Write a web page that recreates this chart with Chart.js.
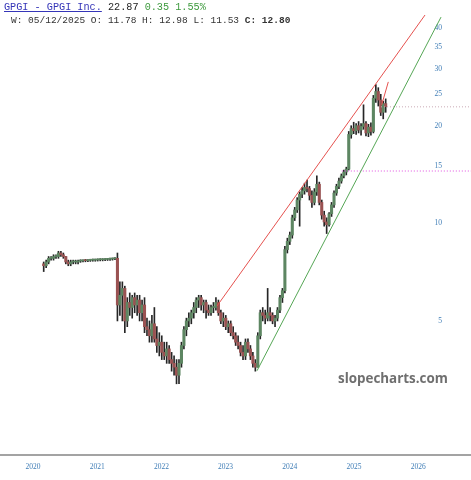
<!DOCTYPE html>
<html>
<head>
<meta charset="utf-8">
<script src="https://cdn.jsdelivr.net/npm/chart.js@4.4.0/dist/chart.umd.min.js"></script>
<style>
  body { margin: 0; background: #fff; }
  #wrap { position: relative; width: 471px; height: 480px; }
  canvas { display: block; }
  #line1 { position: absolute; left: 4px; top: 2px; font-family: "Liberation Mono", monospace; font-size: 10.2px; color: #222; white-space: pre; }
  #line1 .sym { color: #3535b8; text-decoration: underline; }
  #line1 .chg { color: #3d9a3d; }
  #line2 { position: absolute; left: 11px; top: 15px; font-family: "Liberation Mono", monospace; font-size: 9.5px; color: #333; white-space: pre; }
  #mark { position: absolute; left: 338px; top: 369px; font-family: "Open Sans", sans-serif; font-weight: bold; font-size: 13.4px; color: #6f6f6f; }
</style>
</head>
<body>
<div id="wrap">
  <canvas id="chart" width="471" height="480"></canvas>
  <div id="line1"><span class="sym">GPGI - GPGI Inc.</span> 22.87 <span class="chg">0.35 1.55%</span></div>
  <div id="line2">W: 05/12/2025 O: 11.78 H: 12.98 L: 11.53 <b>C: 12.80</b></div>
  <div id="mark">slopecharts.com</div>
</div>
<script>
// two-week candles starting 2020-03-02
var firstWeek = Date.UTC(2020, 2, 2);
var stepDays = 14;

var opens = [7.5,7.4,7.6,7.8,7.8,7.9,7.9,8.1,8.0,7.9,7.6,7.5,7.6,7.6,7.6,
  7.65,7.66,7.68,7.67,7.69,7.70,7.70,7.71,7.72,7.72,7.73,7.74,7.75,7.76,7.78,
  7.8,5.6,6.0,6.3,5.0,5.7,5.5,5.9,5.6,5.8,5.3,5.6,4.8,4.7,4.5,4.9,4.4,4.2,4.3,4.0,
  3.9,4.1,3.8,3.7,3.6,3.4,3.7,4.2,4.7,5.0,5.1,5.3,5.5,5.8,5.9,5.6,5.7,5.4,5.3,5.5,
  5.5,5.7,5.3,5.0,5.1,4.8,4.9,4.6,4.5,4.3,4.2,4.0,3.9,4.3,4.1,3.9,3.7,3.6,4.5,5.3,
  5.2,5.1,5.3,5.2,5.0,5.1,5.4,5.9,6.2,8.3,8.8,9.2,10.4,11.0,11.8,12.3,12.6,12.9,12.8,12.2,
  11.6,12.5,13.2,11.6,10.6,10.1,9.9,10.7,11.4,12.4,13.0,13.5,14.0,14.4,14.7,18.8,19.6,19.3,20.0,19.4,
  19.9,20.3,19.0,19.8,19.2,24.3,25.5,24.0,22.0,23.4];
var highs = [7.6,7.7,7.9,7.9,8.0,8.0,8.2,8.2,8.1,7.9,7.7,7.7,7.7,7.7,7.7,
  7.72,7.72,7.74,7.73,7.75,7.76,7.76,7.77,7.78,7.78,7.79,7.80,7.81,7.82,7.84,
  8.1,6.6,6.6,6.4,5.9,6.1,6.0,6.1,6.0,6.0,5.8,5.9,5.1,5.0,5.2,5.5,4.8,4.6,4.5,4.3,
  4.3,4.2,4.0,3.9,3.8,3.8,4.3,4.8,5.1,5.3,5.4,5.7,5.9,6.0,6.0,5.8,5.8,5.6,5.6,5.7,
  5.9,5.8,5.4,5.3,5.2,5.0,5.0,4.8,4.6,4.5,4.3,4.2,4.4,4.4,4.2,4.0,3.8,4.6,5.4,5.5,
  5.4,6.3,5.5,5.3,5.2,5.5,6.0,6.3,8.5,9.0,9.4,10.6,11.2,12.0,12.5,12.9,13.3,13.6,13.0,12.6,
  12.8,14.0,13.4,11.8,10.9,10.4,10.8,11.6,12.6,13.2,13.8,14.2,14.6,14.9,19.2,20.0,20.5,20.3,20.6,20.3,
  23.2,20.6,20.2,20.4,24.8,26.8,26.2,25.0,23.8,24.2];
var lows = [7.1,7.3,7.5,7.7,7.7,7.8,7.8,7.9,7.8,7.5,7.4,7.4,7.5,7.5,7.5,
  7.58,7.60,7.61,7.61,7.63,7.64,7.64,7.65,7.66,7.66,7.67,7.68,7.69,7.70,7.72,
  5.0,5.2,5.0,4.6,4.8,5.2,5.1,5.3,5.2,5.0,5.0,4.6,4.5,4.3,4.3,4.3,4.0,3.9,3.8,3.8,
  3.7,3.7,3.5,3.4,3.2,3.2,3.6,4.1,4.5,4.8,4.9,5.1,5.3,5.5,5.4,5.3,5.1,5.2,5.2,5.3,
  5.4,5.2,4.9,4.8,4.7,4.6,4.5,4.4,4.2,4.1,3.9,3.8,3.8,4.0,3.8,3.6,3.5,3.6,4.4,5.0,
  4.9,5.0,5.0,4.9,4.8,5.0,5.3,5.7,6.1,8.1,8.6,9.0,10.2,10.8,9.8,12.0,12.3,12.5,11.8,11.2,
  11.4,12.2,11.4,10.3,9.8,9.3,9.8,10.5,11.2,12.2,12.8,13.3,13.8,14.1,14.6,18.3,18.9,18.8,19.0,18.7,
  19.5,18.6,18.5,18.7,19.0,23.6,23.0,21.5,21.0,22.0];
var closes = [7.4,7.6,7.8,7.8,7.9,7.9,8.1,8.0,7.9,7.6,7.5,7.6,7.6,7.6,7.65,
  7.66,7.68,7.67,7.69,7.70,7.70,7.71,7.72,7.72,7.73,7.74,7.75,7.76,7.78,7.80,
  5.6,6.0,6.3,5.0,5.7,5.5,5.9,5.6,5.8,5.3,5.6,4.8,4.7,4.5,4.9,4.4,4.2,4.3,4.0,3.9,
  4.1,3.8,3.7,3.6,3.4,3.7,4.2,4.7,5.0,5.1,5.3,5.5,5.8,5.9,5.6,5.7,5.4,5.3,5.5,5.5,
  5.7,5.3,5.0,5.1,4.8,4.9,4.6,4.5,4.3,4.2,4.0,3.9,4.3,4.1,3.9,3.7,3.6,4.5,5.3,5.2,
  5.1,5.3,5.2,5.0,5.1,5.4,5.9,6.2,8.3,8.8,9.2,10.4,11.0,11.8,12.3,12.6,12.9,12.8,12.2,11.6,
  12.5,13.2,11.6,10.6,10.1,9.9,10.7,11.4,12.4,13.0,13.5,14.0,14.4,14.7,18.8,19.6,19.3,20.0,19.4,19.9,
  20.3,19.0,19.8,19.2,24.3,25.5,24.0,22.0,23.4,22.9];

var yearTicks = [2020, 2021, 2022, 2023, 2024, 2025, 2026];
var priceTicks = [5, 10, 15, 20, 25, 30, 35, 40];

// trend lines [decimal year, price]
var redTrend = [[2022.866, 5.56], [2026.106, 43.9]];
var greenTrend = [[2023.489, 3.51], [2026.355, 43.25]];
var shortRed = [[2025.431, 23.2], [2025.534, 27.3]];
var lastPriceLine = [[2025.42, 22.87], [2026.9, 22.87]];
var levelLine = [[2024.81, 14.5], [2026.9, 14.5]];

function toYear(ms) {
  var d = new Date(ms);
  var y = d.getUTCFullYear();
  var a = Date.UTC(y, 0, 1), b = Date.UTC(y + 1, 0, 1);
  return y + (ms - a) / (b - a);
}

var xs = closes.map(function(c, i) { return toYear(firstWeek + i * stepDays * 86400000); });
var upColor = '#5d8662', downColor = '#9a5252';
var candleColors = closes.map(function(c, i) { return c >= opens[i] ? upColor : downColor; });

function pts(arr) { return arr.map(function(p) { return {x: p[0], y: p[1]}; }); }
function lineSet(arr, color, dash) {
  return { type: 'line', data: pts(arr), borderColor: color, borderWidth: 1, borderDash: dash || [],
    pointRadius: 0, fill: false, order: 0 };
}

var tickFont = { family: 'Liberation Serif', size: 7.5 };

new Chart(document.getElementById('chart'), {
  type: 'bar',
  data: {
    datasets: [
      { data: closes.map(function(c, i) { return {x: xs[i], y: [lows[i], highs[i]]}; }),
        backgroundColor: '#262626', barThickness: 1, grouped: false, order: 2 },
      { data: closes.map(function(c, i) { return {x: xs[i], y: [opens[i], c]}; }),
        backgroundColor: candleColors, barThickness: 2.4, grouped: false, minBarLength: 1, order: 1 }, 
      lineSet(redTrend, '#e5524f'),
      lineSet(greenTrend, '#55a655'),
      lineSet(shortRed, '#e5524f'),
      lineSet(lastPriceLine, '#c9a9b4', [1, 2]),
      lineSet(levelLine, '#e04fe0', [1, 2])
    ]
  },
  options: {
    responsive: false,
    animation: false,
    layout: { padding: { top: 15, left: 0, right: 0, bottom: 0 } },
    plugins: { legend: { display: false }, tooltip: { enabled: false } },
    scales: {
      x: {
        type: 'linear', min: 2019.486, max: 2026.822, offset: false,
        grid: { display: false, drawTicks: false },
        border: { display: true, color: '#a3a3a3', width: 2 },
        afterBuildTicks: function(s) { s.ticks = yearTicks.map(function(v) { return {value: v}; }); },
        afterFit: function(s) { s.height = 25; },
        ticks: { color: '#3f7db6', font: tickFont, padding: 8, maxRotation: 0,
          callback: function(v) { return String(v); } }
      },
      y: {
        type: 'logarithmic', position: 'right', min: 1.93, max: 43.9,
        grid: { display: false, drawTicks: false },
        border: { display: false },
        afterBuildTicks: function(s) { s.ticks = priceTicks.map(function(v) { return {value: v}; }); },
        afterFit: function(s) { s.width = 0; },
        ticks: { mirror: true, padding: -29, color: '#3f7db6', font: tickFont,
          callback: function(v) { return String(v); } }
      }
    }
  }
});
</script>
</body>
</html>
